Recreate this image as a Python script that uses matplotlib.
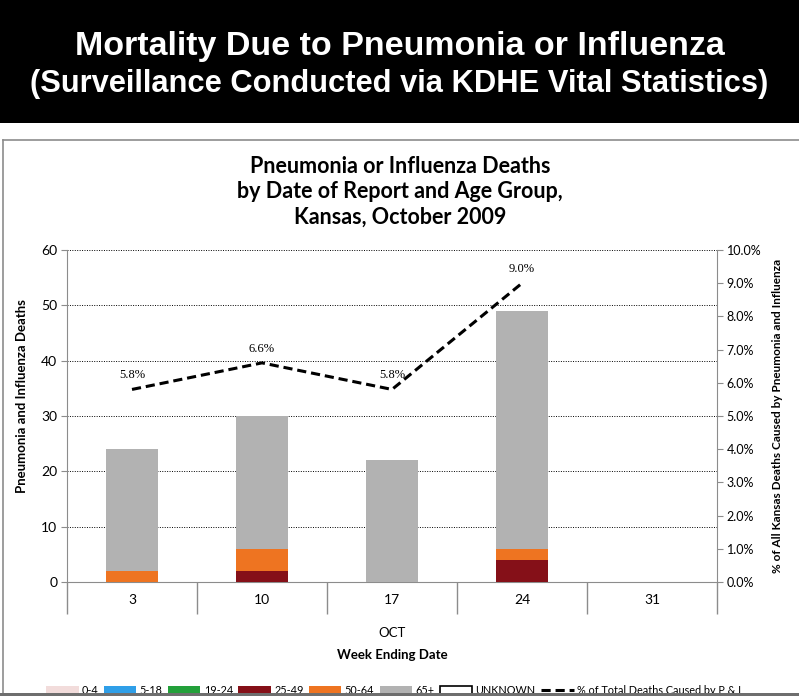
import matplotlib
matplotlib.use("Agg")
import matplotlib.pyplot as plt
from matplotlib.patches import Rectangle, Patch
from matplotlib.lines import Line2D
from matplotlib.ticker import PercentFormatter, FixedLocator

plt.rcParams['font.family'] = ['Lato', 'DejaVu Sans']

weeks = ["3", "10", "17", "24", "31"]
age_groups = ["0-4", "5-18", "19-24", "25-49", "50-64", "65+", "UNKNOWN"]
age_colors = ["#F2DCDB", "#2F9FE8", "#23A03A", "#851018", "#EE7421", "#B2B2B2", "#FFFFFF"]
deaths = {
    "0-4":     [0, 0, 0, 0, 0],
    "5-18":    [0, 0, 0, 0, 0],
    "19-24":   [0, 0, 0, 0, 0],
    "25-49":   [0, 2, 0, 4, 0],
    "50-64":   [2, 4, 0, 2, 0],
    "65+":     [22, 24, 22, 43, 0],
    "UNKNOWN": [0, 0, 0, 0, 0],
}
pct_weeks = [0, 1, 2, 3]
pct_values = [5.8, 6.6, 5.8, 9.0]

W, H = 799, 696
fig = plt.figure(figsize=(W / 100, H / 100), dpi=100)

# header banner
fig.patches.append(Rectangle((0, 1 - 123 / H), 1, 123 / H, transform=fig.transFigure,
                             facecolor="black", edgecolor="none", zorder=0))
fig.text(0.5, 1 - 46 / H, "Mortality Due to Pneumonia or Influenza", color="white",
         fontsize=24.5, fontweight="bold", family="Liberation Sans", ha="center", va="center")
fig.text(0.5, 1 - 84 / H, "(Surveillance Conducted via KDHE Vital Statistics)", color="white",
         fontsize=22.2, fontweight="bold", family="Liberation Sans", ha="center", va="center")

# chart panel border
fig.lines.append(Line2D([3 / W, 1], [1 - 140 / H, 1 - 140 / H], transform=fig.transFigure,
                        color="#8C8C8C", lw=1.2))
fig.lines.append(Line2D([3 / W, 3 / W], [0, 1 - 140 / H], transform=fig.transFigure,
                        color="#8C8C8C", lw=1.2))

ax = fig.add_axes([67 / W, 1 - 582 / H, 650 / W, 332 / H])
x = list(range(len(weeks)))
bottom = [0] * len(weeks)
for grp, col in zip(age_groups, age_colors):
    vals = deaths[grp]
    ax.bar(x, vals, width=0.4, bottom=bottom, color=col, zorder=3)
    bottom = [b + v for b, v in zip(bottom, vals)]

ax.set_xlim(-0.5, 4.5)
ax.set_ylim(0, 60)
ax.set_yticks(range(0, 61, 10))
ax.yaxis.grid(True, color="black", linestyle=(0, (1, 1.5)), lw=0.7, zorder=0)
ax.set_xticks(x)
ax.set_xticklabels(weeks, fontsize=10)
ax.xaxis.set_minor_locator(FixedLocator([-0.5, 0.5, 1.5, 2.5, 3.5, 4.5]))
ax.tick_params(axis="x", which="major", length=0, pad=9)
ax.tick_params(axis="x", which="minor", length=23, color="#8C8C8C", width=1)
ax.tick_params(axis="y", labelsize=10, length=4, color="#8C8C8C", pad=3)
for s in ["top", "right"]:
    ax.spines[s].set_visible(False)
for s in ["left", "bottom"]:
    ax.spines[s].set_color("#8C8C8C")
ax.set_ylabel("Pneumonia and Influenza Deaths", fontsize=9.5, fontweight="bold")
ax.yaxis.set_label_coords(-0.06, 0.56)

ax2 = ax.twinx()
ax2.plot(pct_weeks, [v / 100 for v in pct_values], color="black", lw=2.2,
         linestyle=(0, (3, 1.6)), zorder=4)
for xi, v in zip(pct_weeks, pct_values):
    ax2.annotate(f"{v:.1f}%", (xi, v / 100), xytext=(0, 6), textcoords="offset points",
                 ha="center", va="bottom", fontsize=9, family="Liberation Serif")
ax2.set_ylim(0, 0.10)
ax2.set_yticks([i / 100 for i in range(11)])
ax2.yaxis.set_major_formatter(PercentFormatter(1.0, decimals=1))
ax2.tick_params(axis="y", labelsize=9, length=4, color="#8C8C8C", pad=3)
for s in ["top", "left", "bottom"]:
    ax2.spines[s].set_visible(False)
ax2.spines["right"].set_color("#8C8C8C")
ax2.set_ylabel("% of All Kansas Deaths Caused by Pneumonia and Influenza", fontsize=8.5,
               fontweight="bold", labelpad=8)

fig.text(400 / W, 1 - 192 / H,
         "Pneumonia or Influenza Deaths\nby Date of Report and Age Group,\nKansas, October 2009",
         ha="center", va="center", fontsize=15.5, fontweight="bold", linespacing=1.25)
fig.text(392 / W, 1 - 633 / H, "OCT", ha="center", va="center", fontsize=9.5)
fig.text(392 / W, 1 - 655 / H, "Week Ending Date", ha="center", va="center", fontsize=9.5,
         fontweight="bold")

handles = [Patch(facecolor=c, edgecolor="black" if g == "UNKNOWN" else "none", lw=1.2)
           for g, c in zip(age_groups, age_colors)]
handles.append(Line2D([0], [0], color="black", lw=2.2, linestyle=(0, (3, 1.6))))
labels = age_groups + ["% of Total Deaths Caused by P & I"]
fig.legend(handles, labels, loc="upper left", bbox_to_anchor=(46 / W, 1 - 685 / H), ncol=8,
           frameon=False, fontsize=7.8, handlelength=3.0, handleheight=0.9,
           columnspacing=0.5, handletextpad=0.3, borderaxespad=0, borderpad=0)

fig.patches.append(Rectangle((0, 0), 1, 3 / H, transform=fig.transFigure,
                             facecolor="#6E6E6E", edgecolor="none", zorder=20))

fig.savefig("out.png", dpi=100)
